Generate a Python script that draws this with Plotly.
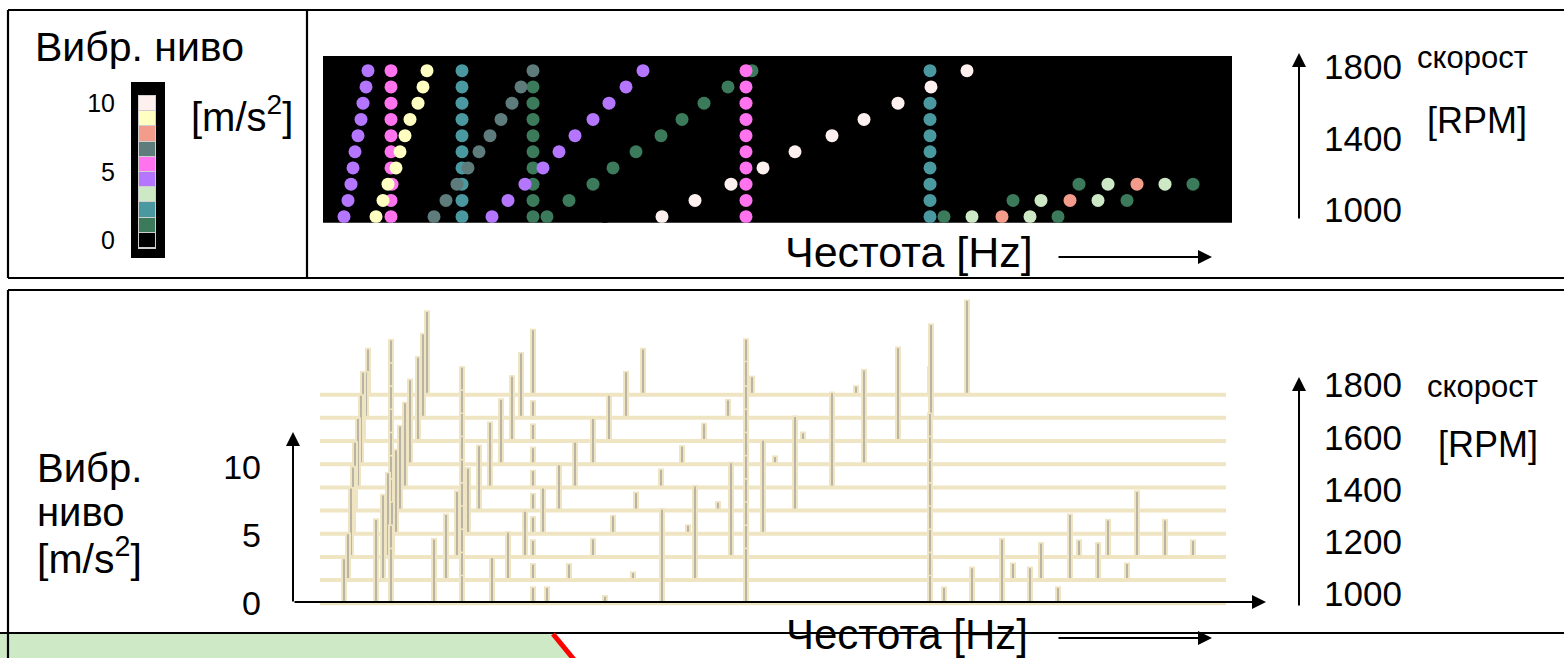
import plotly.graph_objects as go

W, H = 1564, 658


def px(x):
    return x / W


def py(y):
    return 1 - y / H


# ---------------- data ----------------
speeds = [1000, 1089, 1178, 1267, 1356, 1444, 1533, 1622, 1711, 1800]  # RPM of each run-up step
level_colors = ["#000000", "#3b7a5a", "#4a98a0", "#cce8c4", "#b476ff",
                "#ff74ee", "#5e7c7c", "#f49c8c", "#ffffc2", "#fff0f0"]
level_ticks = [0, 5, 10]
rpm_ticks_top = [1000, 1400, 1800]
rpm_ticks_bottom = [1000, 1200, 1400, 1600, 1800]
amp_ticks = [0, 5, 10]

# each order / peak track: frequency per speed step [Hz], amplitude [m/s2], colour level
f_lo = [285, 313, None, 368, 398, None, 455, 483, None, 536]
a_lo = [0.6, 0.65, None, 0.7, 0.7, None, 0.65, 0.7, None, 0.7]
f_g1 = [213, 213, 213, 213, 213, 213, 213, 213, 213, None]
a_g1 = [1.25, 1.25, 1.3, 1.3, 1.3, 1.3, 1.3, 1.3, 1.3, None]
f_g2 = [227, 249, 273, 293, 316, 341, 362, 384, 408, 432]
a_g2 = [1.25, 1.25, 1.4, 1.4, 1.4, 1.4, 1.4, 1.35, 1.4, 1.4]
f_b1 = [624, 693, 759, None, None, None, None, None, None, None]
a_b1 = [1.25, 1.3, 1.3, None, None, None, None, None, None, None]
f_b2 = [652, 721, 788, None, None, None, None, None, None, None]
a_b2 = [2.7, 2.8, 2.8, None, None, None, None, None, None, None]
f_b3 = [682, 750, 817, None, None, None, None, None, None, None]
a_b3 = [4.8, 4.9, 4.9, None, None, None, None, None, None, None]
f_b4 = [710, 778, 845, None, None, None, None, None, None, None]
a_b4 = [2.7, 2.8, 2.8, None, None, None, None, None, None, None]
f_b5 = [738, 807, 873, None, None, None, None, None, None, None]
a_b5 = [1.25, 1.3, 1.3, None, None, None, None, None, None, None]
f_t1 = [142, 142, 142, 142, 142, 142, 142, 142, 142, 142]
a_t1 = [2.1, 2.1, 2.1, 2.1, 2.1, 2.1, 2.1, 2.1, 2.1, 2.1]
f_t2 = [610, 610, 610, 610, 610, 610, 610, 610, None, 610]
a_t2 = [2.1, 2.1, 2.1, 2.1, 2.1, 2.1, 2.1, 2.1, None, 2.1]
f_m1 = [71, 71, 72, 71, 71, 71, 71, 71, 71, 71]
a_m1 = [4.1, 4.1, 4.1, 4.1, 4.1, 4.1, 4.1, 4.1, 4.1, 4.1]
f_m2 = [426, 426, 426, 426, 426, 426, 426, 426, 426, 426]
a_m2 = [4.1, 4.1, 4.1, 4.1, 4.1, 4.1, 4.1, 4.1, 4.2, 4.15]
f_p1 = [24, 28, 31, 33, 35, 38, 41, 43, 46, 48]
a_p1 = [3.35, 3.5, 5.15, 5.0, 5.1, 5.15, 5.15, 5.15, 3.45, 3.45]
f_p2 = [172, 188, 205, 223, 239, 255, 273, 289, 306, 323]
a_p2 = [3.45, 3.6, 3.45, 3.45, 3.45, 3.4, 3.45, 3.45, 3.45, 3.45]
f_sl = [114, 126, 137, 148, 159, 170, 181, 192, 201, 213]
a_sl = [4.8, 4.9, 4.9, 4.9, 4.85, 4.85, 4.85, 4.85, 4.85, 4.85]
f_yl = [56, 63, 68, 76, 80, 85, 90, 98, 103, 107]
a_yl = [6.25, 6.35, 6.25, 6.25, 6.3, 6.3, 6.3, 6.25, 6.25, 6.2]
f_wh = [342, 375, 411, 443, 475, 512, 544, 578, 611, 647]
a_wh = [7.0, 7.0, 7.0, 6.95, 7.0, 7.05, 7.0, 6.95, 6.95, 7.0]

spectrum_band_top = [3, 912]      # Hz range of the colour map
spectrum_band_bottom = [0, 906]   # Hz range of the waterfall

# ---------------- style / layout constants ----------------
FONT = "Liberation Sans, Arial, sans-serif"
TAN = "#efe5c2"
GRAY = "#9c9a94"
AMP_PX = 13.6                 # pixels per m/s2 in the waterfall
ROW_OFF = 23.18 / AMP_PX      # vertical offset per speed step (in m/s2 units)
BASE0 = 603.3                 # pixel row of the front baseline
X_LEFT, X_RIGHT = 293, 1266   # pixel extent of frequency axes
F0 = 320                      # pixel of 0 Hz
xr = [X_LEFT - F0, X_RIGHT - F0]

tracks = [
    (f_lo, a_lo, 0), (f_g1, a_g1, 1), (f_g2, a_g2, 1), (f_b1, a_b1, 1), (f_b5, a_b5, 1),
    (f_b2, a_b2, 3), (f_b4, a_b4, 3), (f_b3, a_b3, 7), (f_t1, a_t1, 2), (f_t2, a_t2, 2),
    (f_m1, a_m1, 5), (f_m2, a_m2, 5), (f_p1, a_p1, 4), (f_p2, a_p2, 4), (f_sl, a_sl, 6),
    (f_yl, a_yl, 8), (f_wh, a_wh, 9),
]

fig = go.Figure()

# ---------- top: colour map ----------
for f, a, lvl in tracks:
    xs = [f[k] for k in range(len(speeds)) if f[k] is not None]
    ys = [speeds[k] for k in range(len(speeds)) if f[k] is not None]
    fig.add_trace(go.Scatter(x=xs, y=ys, mode="markers", xaxis="x", yaxis="y",
                             marker=dict(size=13, color=level_colors[lvl], line=dict(width=0)),
                             hoverinfo="skip", showlegend=False))
fig.add_trace(go.Scatter(x=[None], y=[None], xaxis="x", yaxis="y3", showlegend=False, hoverinfo="skip"))

# ---------- colour scale (legend column) ----------
levels = list(range(len(level_colors)))
cs = []
n = len(level_colors)
for i, c in enumerate(level_colors):
    cs.append([i / n, c])
    cs.append([(i + 1) / n, c])
fig.add_trace(go.Heatmap(z=[[l] for l in levels], x=[0], y=levels, colorscale=cs,
                         zmin=-0.5, zmax=n - 0.5, showscale=False, ygap=1,
                         xaxis="x5", yaxis="y5", hoverinfo="skip"))

# ---------- bottom: waterfall ----------
for k in reversed(range(len(speeds))):
    base = k * ROW_OFF
    sx, sy, gx, gy = [], [], [], []
    for f, a, lvl in tracks:
        if f[k] is not None:
            sx += [f[k], f[k], None]
            sy += [base, base + a[k], None]
            gx += [f[k], f[k], None]
            gy += [base, base + a[k] - 0.12, None]
    fig.add_trace(go.Scatter(x=sx, y=sy, mode="lines", xaxis="x2", yaxis="y2",
                             line=dict(color=TAN, width=6), hoverinfo="skip", showlegend=False))
    fig.add_trace(go.Scatter(x=gx, y=gy, mode="lines", xaxis="x2", yaxis="y2",
                             line=dict(color=GRAY, width=1.3), hoverinfo="skip", showlegend=False))
    fig.add_trace(go.Scatter(x=spectrum_band_bottom, y=[base, base], mode="lines", xaxis="x2", yaxis="y2",
                             line=dict(color=TAN, width=4), hoverinfo="skip", showlegend=False))
fig.add_trace(go.Scatter(x=[None], y=[None], xaxis="x2", yaxis="y4", showlegend=False, hoverinfo="skip"))

# ---------- axes ----------
top_y0, top_y1 = 222.7, 56
rows_px0, rows_px1 = 216.7, 70.7
spp = (rows_px0 - rows_px1) / (speeds[-1] - speeds[0])
yr_top = [speeds[0] - (top_y0 - rows_px0) / spp, speeds[-1] + (rows_px1 - top_y1) / spp]

lab_px0, lab_px1 = 210, 67
lpp = (lab_px0 - lab_px1) / (rpm_ticks_top[-1] - rpm_ticks_top[0])
yr_top_lab = [rpm_ticks_top[0] - (top_y0 - lab_px0) / lpp, rpm_ticks_top[-1] + (lab_px1 - top_y1) / lpp]

bot_y0, bot_y1 = 620, 292
yr_bot = [-(bot_y0 - BASE0) / AMP_PX, (BASE0 - bot_y1) / AMP_PX]
blab0, blab1 = 594, 385
bpp = (blab0 - blab1) / (rpm_ticks_bottom[-1] - rpm_ticks_bottom[0])
yr_bot_lab = [rpm_ticks_bottom[0] - (bot_y0 - blab0) / bpp, rpm_ticks_bottom[-1] + (blab1 - bot_y1) / bpp]

hidden = dict(visible=False, showgrid=False, zeroline=False, automargin=False)
tickfont = dict(family=FONT, size=35, color="black")
plain = dict(ticks="", showline=False, showgrid=False, zeroline=False, automargin=False)

fig.update_layout(
    template="none",
    width=W, height=H, margin=dict(l=0, r=0, t=0, b=0, pad=0, autoexpand=False),
    paper_bgcolor="white", plot_bgcolor="rgba(0,0,0,0)", showlegend=False,
    xaxis=dict(domain=[px(X_LEFT), px(X_RIGHT)], range=xr, anchor="y", **hidden),
    yaxis=dict(domain=[py(top_y0), py(top_y1)], range=yr_top, anchor="x", **hidden),
    yaxis3=dict(overlaying="y", side="right", anchor="free", position=px(1323), range=yr_top_lab,
                tickvals=rpm_ticks_top, ticktext=[str(v) for v in rpm_ticks_top], tickfont=tickfont, **plain),
    xaxis2=dict(domain=[px(X_LEFT), px(X_RIGHT)], range=xr, anchor="y2", **hidden),
    yaxis2=dict(domain=[py(bot_y0), py(bot_y1)], range=yr_bot, anchor="x2",
                tickvals=amp_ticks, ticktext=[str(v) for v in amp_ticks], ticklabelstandoff=31,
                tickfont=dict(family=FONT, size=34, color="black"), **plain),
    yaxis4=dict(overlaying="y2", side="right", anchor="free", position=px(1323), range=yr_bot_lab,
                tickvals=rpm_ticks_bottom, ticktext=[str(v) for v in rpm_ticks_bottom], tickfont=tickfont,
                **plain),
    xaxis5=dict(domain=[px(139), px(155)], range=[-0.5, 0.5], anchor="y5", **hidden),
    yaxis5=dict(domain=[py(248), py(96)], range=[-0.5, n - 0.5], anchor="x5",
                tickvals=[t * (n - 1) / 10 for t in level_ticks], ticktext=[str(t) for t in level_ticks],
                ticklabelstandoff=23, tickfont=dict(family=FONT, size=25, color="black"), **plain),
)

# ---------- shapes (frames, backgrounds) ----------
shapes = []
shapes.append(dict(type="rect", xref="x", yref="y domain", x0=spectrum_band_top[0], x1=spectrum_band_top[1],
                   y0=0, y1=1, fillcolor="black", line=dict(width=0), layer="below"))
shapes.append(dict(type="rect", xref="paper", yref="paper", x0=px(131), x1=px(165), y0=py(258), y1=py(82),
                   fillcolor="black", line=dict(width=0), layer="below"))
shapes.append(dict(type="rect", xref="paper", yref="paper", x0=px(138), x1=px(156), y0=py(249), y1=py(95),
                   fillcolor="#cfcfcf", line=dict(width=0), layer="below"))
# green box at the bottom
shapes.append(dict(type="path", xref="paper", yref="paper",
                   path=f"M {px(-5)},{py(634)} L {px(556)},{py(634)} L {px(576)},{py(665)} L {px(-5)},{py(665)} Z",
                   fillcolor="#cde9c6", line=dict(width=0), layer="below"))
LN = dict(color="black", width=2.2)
for (x0, y0, x1, y1) in [(8, 10, 1570, 10), (8, 278, 1570, 278), (8, 10, 8, 278), (307, 10, 307, 278),
                         (8, 290, 1570, 290), (8, 290, 8, 665), (-5, 633, 1570, 633)]:
    shapes.append(dict(type="line", xref="paper", yref="paper", x0=px(x0), y0=py(y0), x1=px(x1), y1=py(y1), line=LN))
shapes.append(dict(type="line", xref="paper", yref="paper", x0=px(553), y0=py(634), x1=px(576), y1=py(662),
                   line=dict(color="#ff0000", width=5)))
fig.update_layout(shapes=shapes)

# ---------- annotations: text and arrows ----------
ann = []


def text(t, x, y, size=32, xanchor="left"):
    ann.append(dict(text=t, x=px(x), y=py(y), xref="paper", yref="paper", showarrow=False,
                    xanchor=xanchor, yanchor="middle", font=dict(family=FONT, size=size, color="black")))


def arrow(x, y, ax, ay, size=1.4):
    ann.append(dict(text="", x=px(x), y=py(y), xref="paper", yref="paper", ax=ax, ay=ay,
                    showarrow=True, arrowhead=2, arrowsize=size, arrowwidth=2, arrowcolor="black",
                    standoff=0, startstandoff=0))


text("Вибр. ниво", 33, 47, 41)
text("[m/s<sup>2</sup>]", 189, 114, 40)
text("скорост", 1415, 58, 31)
text("[RPM]", 1425, 121, 36)
text("Честота [Hz]", 783, 252, 43)
text("скорост", 1425, 386, 31)
text("[RPM]", 1436, 444, 36)
text("Вибр.", 35, 468, 40)
text("ниво", 35, 512, 40)
text("[m/s<sup>2</sup>]", 35, 556, 41)
text("Честота [Hz]", 784, 634, 42)

arrow(1212, 257, -155, 0)
arrow(1212, 638, -155, 0)
arrow(1299, 53, 0, 167)
arrow(1299, 377, 0, 230)
arrow(293, 432, 0, 171)
arrow(1266, 602, -973, 0)
fig.update_layout(annotations=ann)

fig.write_html(
    "out.html",
    config={"displayModeBar": False, "staticPlot": True},
    post_script="document.body.style.margin='0';document.body.style.padding='0';"
                "document.documentElement.style.overflow='hidden';",
)
